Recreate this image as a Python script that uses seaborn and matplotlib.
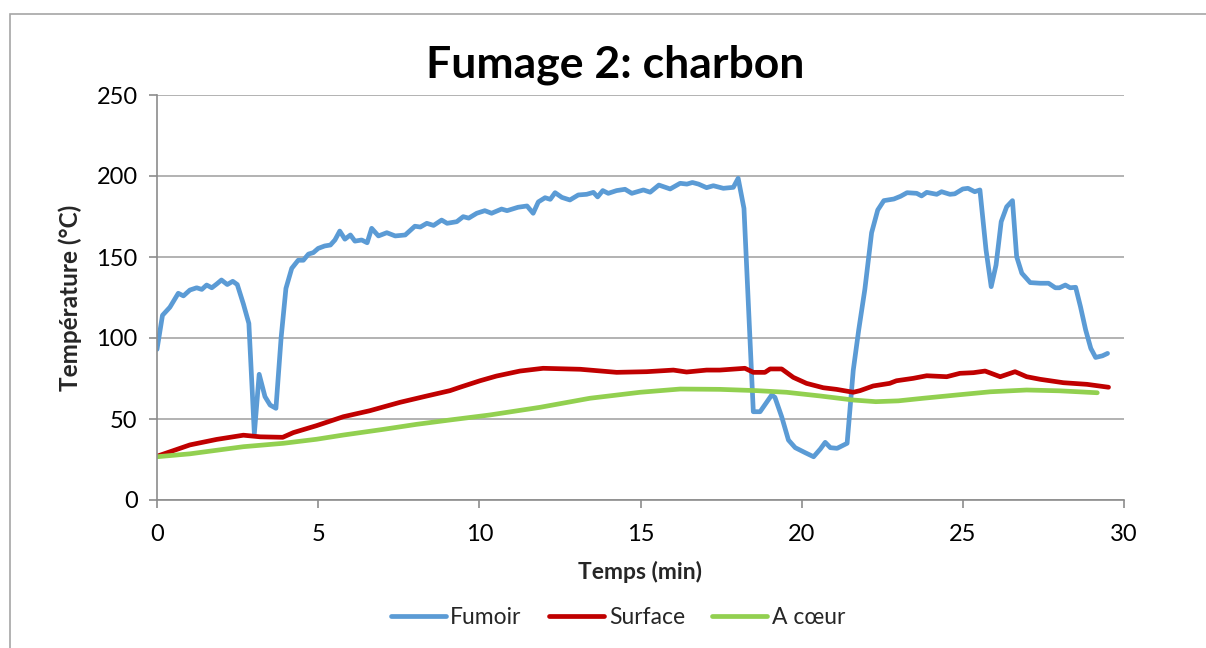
import matplotlib
matplotlib.use("Agg")
import matplotlib.pyplot as plt
from matplotlib.patches import Rectangle
from matplotlib.lines import Line2D
import pandas as pd
import seaborn as sns

# Fumoir (blue)
fumoir_t = [0, 0.17, 0.4, 0.66, 0.82, 1.02, 1.23, 1.39, 1.54, 1.7, 1.85, 2.0, 2.18, 2.35,
            2.49, 2.68, 2.85, 3.02, 3.17, 3.35, 3.51, 3.69, 3.85, 4.0, 4.18, 4.38, 4.54, 4.7,
            4.85, 5.0, 5.2, 5.38, 5.52, 5.67, 5.83, 6.0, 6.14, 6.35, 6.52, 6.66, 6.87, 7.13,
            7.39, 7.7, 8.0, 8.17, 8.37, 8.58, 8.83, 9.0, 9.3, 9.5, 9.67, 9.92, 10.17, 10.38,
            10.69, 10.86, 11.2, 11.48, 11.67, 11.83, 12.04, 12.2, 12.35, 12.56, 12.81, 13.07,
            13.33, 13.54, 13.67, 13.83, 14.0, 14.26, 14.52, 14.73, 15.09, 15.3, 15.57, 15.92,
            16.23, 16.44, 16.61, 16.8, 17.05, 17.26, 17.57, 17.88, 18.03, 18.21, 18.5, 18.71,
            19.07, 19.17, 19.38, 19.59, 19.8, 20.11, 20.37, 20.58, 20.73, 20.89, 21.1, 21.41,
            21.6, 21.77, 21.96, 22.17, 22.36, 22.55, 22.86, 23.07, 23.27, 23.57, 23.72, 23.88,
            24.19, 24.34, 24.6, 24.75, 25.0, 25.16, 25.37, 25.53, 25.72, 25.88, 26.03, 26.19,
            26.36, 26.54, 26.67, 26.83, 27.09, 27.4, 27.66, 27.87, 28.0, 28.18, 28.33, 28.5,
            28.65, 28.81, 28.97, 29.12, 29.33, 29.49]
fumoir = [93, 114, 119, 127.6, 126, 129.6, 131, 130, 132.7, 131, 133.3, 135.8, 133, 135,
          133, 121, 109, 41, 77.6, 63.8, 58.6, 56.6, 100, 130.6, 143, 148, 148, 151.8,
          152.7, 155.3, 156.8, 157.4, 160.5, 166, 161, 163.6, 159.8, 160.5, 158.8, 167.7, 163, 165,
          163, 163.6, 169, 168.5, 170.8, 169.5, 172.8, 170.8, 171.8, 174.9, 174, 177, 178.6, 177,
          179.6, 178.6, 180.7, 181.5, 177, 184, 186.6, 185.6, 189.7, 186.8, 185.2, 188.3,
          188.7, 189.9, 187.1, 191, 189.3, 191, 191.8, 189.3, 191.4, 190, 194.4, 192,
          195.5, 195, 196, 195, 192.8, 194, 192.4, 193, 198.6, 180, 54.5, 54.5,
          64.8, 63.4, 51.4, 37, 32.3, 29.2, 26.7, 31.5, 35.6, 32.3, 31.9, 35,
          80, 105, 130, 165, 179, 184.8, 185.8, 187.5, 189.7, 189.3, 187.7, 189.9,
          188.7, 190.3, 188.7, 189, 192, 192.4, 190.3, 191.4, 154.3, 131.7, 145, 171.8,
          181, 184.8, 150.2, 140, 134.2, 133.8, 133.8, 131, 131, 132.7, 131, 131.3,
          119.3, 105, 93.6, 88, 89, 90.5]

# Surface (red)
surface_t = [0, 1.02, 1.85, 2.68, 3.2, 3.9, 4.23, 4.95, 5.78, 6.6, 7.54, 8.37, 9.09, 9.4,
             10.02, 10.53, 11.26, 11.98, 13.13, 14.26, 15.19, 16.02, 16.43, 17.05, 17.46,
             18.24, 18.5, 18.86, 19.02, 19.38, 19.74, 20.15, 20.67, 21.08, 21.6, 21.81,
             22.22, 22.73, 22.94, 23.46, 23.88, 24.5, 24.91, 25.33, 25.69, 26.16, 26.62,
             26.98, 27.4, 28.12, 28.85, 29.52]
surface = [27, 34, 37.4, 40, 39, 38.7, 41.6, 45.9, 51.4, 55.1, 60.3, 64.2, 67.5, 69.6,
           73.6, 76.5, 79.6, 81.3, 80.7, 78.8, 79.2, 80.2, 79, 80.2, 80.2,
           81.3, 78.8, 78.8, 80.9, 80.9, 75.7, 72, 69.3, 68.3, 66.5, 67.5,
           70.4, 72, 73.6, 75.1, 76.7, 76.1, 78.2, 78.6, 79.6, 76.1, 79.2,
           76.1, 74.5, 72.4, 71.4, 69.6]

# A coeur (green)
coeur_t = [0, 1.02, 2.68, 3.92, 4.95, 5.78, 7.02, 8.05, 9.09, 10.33, 11.88, 13.43, 14.99,
           16.23, 17.46, 18.61, 19.53, 20.58, 21.61, 22.3, 23.0, 23.77, 24.8, 25.85, 26.98,
           28.0, 29.17]
coeur = [26.7, 28.5, 32.9, 35, 37.5, 40.1, 43.6, 46.7, 49.4, 52.5, 57.2, 62.8, 66.5,
         68.5, 68.3, 67.5, 66.5, 64.2, 61.7, 60.7, 61.2, 62.8, 64.8, 66.8, 67.9,
         67.4, 66.2]

series_names = ["Fumoir", "Surface", "A cœur"]
series_colors = ["#5B9BD5", "#C00000", "#92D050"]

df = pd.concat([
    pd.DataFrame({"t": fumoir_t, "T": fumoir, "serie": series_names[0]}),
    pd.DataFrame({"t": surface_t, "T": surface, "serie": series_names[1]}),
    pd.DataFrame({"t": coeur_t, "T": coeur, "serie": series_names[2]}),
], ignore_index=True)

sns.set_style("white")
plt.rcParams["font.family"] = ["Lato", "DejaVu Sans"]

fig = plt.figure(figsize=(12.06, 6.48), dpi=100)
ax = fig.add_axes([157 / 1206, 1 - 500 / 648, (1124 - 157) / 1206, (500 - 95) / 648])

# outer chart frame
fig.patches.append(Rectangle((10 / 1206, -0.1), 1.2, 1.1 - 14 / 648,
                             transform=fig.transFigure, fill=False,
                             edgecolor="#A6A6A6", linewidth=1.2))

sns.lineplot(data=df, x="t", y="T", hue="serie", palette=series_colors,
             estimator=None, sort=False, linewidth=3.4, legend=False, ax=ax)

ax.set_xlim(0, 30)
ax.set_ylim(0, 250)
ax.set_xticks(range(0, 31, 5))
ax.set_yticks(range(0, 251, 50))
ax.yaxis.grid(True, color="#A6A6A6", linewidth=1.2)
ax.xaxis.grid(False)
for side in ["top", "right"]:
    ax.spines[side].set_visible(False)
for side in ["left", "bottom"]:
    ax.spines[side].set_color("#8C8C8C")
    ax.spines[side].set_linewidth(1.2)
ax.tick_params(axis="both", direction="out", length=6, width=1.2, color="#8C8C8C",
               labelsize=17, labelcolor="black")
ax.tick_params(axis="x", pad=11, bottom=True)
ax.tick_params(axis="y", pad=8, left=True)

ax.set_xlabel("Temps (min)", fontsize=16.5, fontweight="bold", labelpad=12)
ax.set_ylabel("Température (°C)", fontsize=17.5, fontweight="bold", labelpad=10)
fig.text(615 / 1206, 1 - 65 / 648, "Fumage 2: charbon", fontsize=32, fontweight="bold",
         color="black", ha="center", va="center")

handles = [Line2D([0], [0], color=c, linewidth=3.4, solid_capstyle="round") for c in series_colors]
fig.legend(handles, series_names, loc="center", bbox_to_anchor=(618 / 1206, 1 - 618 / 648),
           ncol=3, frameon=False, fontsize=16.5, handlelength=2.4, handletextpad=0.2,
           columnspacing=1.2)

fig.savefig("out.png", dpi=100)
